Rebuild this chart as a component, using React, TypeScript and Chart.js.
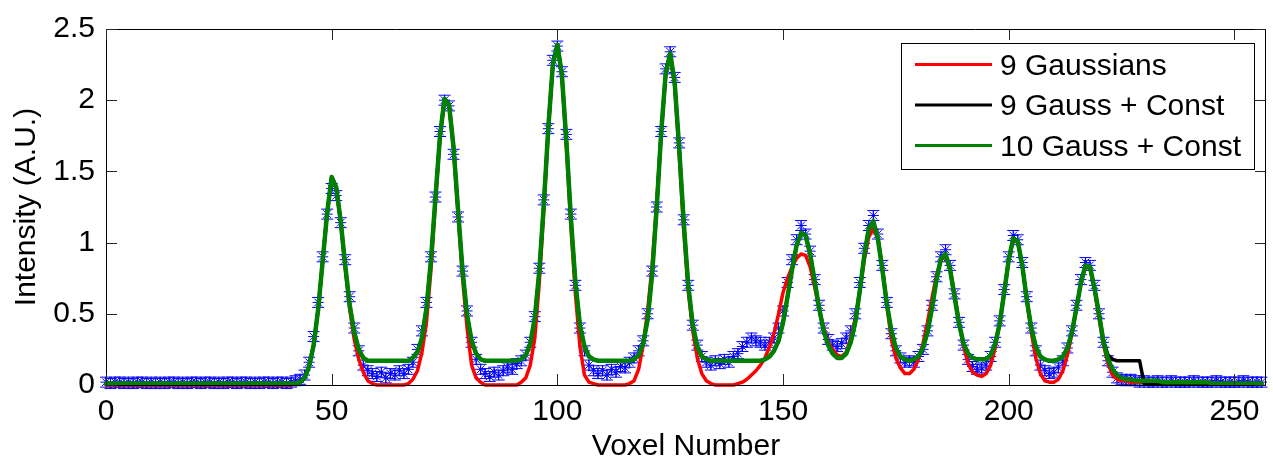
import React, { useEffect, useRef } from "react";
import { Chart, registerables } from "chart.js";

Chart.register(...registerables);

const WIDTH = 1273;
const HEIGHT = 465;
const FONT_FAMILY = "'Liberation Sans', Arial, Helvetica, sans-serif";
const FONT_SIZE = 30;

// x categories: voxel index 0..256
const VOXELS: number[] = Array.from({ length: 257 }, (_, i) => i);
const X_TICKS = [0, 50, 100, 150, 200, 250];
const Y_TICKS = [0, 0.5, 1, 1.5, 2, 2.5];
const X_LABEL = "Voxel Number";
const Y_LABEL = "Intensity (A.U.)";
const SERIES_LABELS = ["9 Gaussians", "9 Gauss + Const", "10 Gauss + Const"];

// measured intensity (blue stars with error bars)
const MEASURED = [
  0.02, 0.01, 0.02, 0.02, 0.01, 0.02, 0.01, 0.02, 0.02, 0.01,
  0.02, 0.01, 0.02, 0.01, 0.02, 0.02, 0.01, 0.02, 0.01, 0.02,
  0.02, 0.01, 0.02, 0.02, 0.01, 0.02, 0.01, 0.02, 0.02, 0.01,
  0.02, 0.02, 0.01, 0.02, 0.01, 0.02, 0.02, 0.01, 0.02, 0.02,
  0.01, 0.02, 0.03, 0.04, 0.07, 0.16, 0.34, 0.58, 0.9, 1.2,
  1.38, 1.33, 1.14, 0.88, 0.62, 0.4, 0.24, 0.14, 0.1, 0.08,
  0.06, 0.09, 0.05, 0.08, 0.07, 0.1, 0.08, 0.11, 0.16, 0.25,
  0.38, 0.58, 0.9, 1.32, 1.78, 2.0, 1.96, 1.62, 1.18, 0.8,
  0.52, 0.3, 0.18, 0.11, 0.08, 0.06, 0.09, 0.07, 0.1, 0.12,
  0.11, 0.15, 0.17, 0.21, 0.3, 0.48, 0.82, 1.3, 1.8, 2.28,
  2.38, 2.2, 1.76, 1.2, 0.7, 0.4, 0.24, 0.14, 0.1, 0.08,
  0.1, 0.07, 0.11, 0.09, 0.13, 0.12, 0.16, 0.19, 0.24, 0.31,
  0.5, 0.8, 1.25, 1.78, 2.22, 2.34, 2.16, 1.7, 1.16, 0.7,
  0.42, 0.28, 0.2, 0.16, 0.14, 0.17, 0.15, 0.18, 0.16, 0.2,
  0.22, 0.27, 0.3, 0.33, 0.31, 0.3, 0.28, 0.3, 0.33, 0.4,
  0.52, 0.72, 0.88, 1.02, 1.12, 1.06, 0.94, 0.74, 0.56, 0.4,
  0.32, 0.28, 0.27, 0.29, 0.33, 0.38, 0.5, 0.72, 0.96, 1.12,
  1.19, 1.06, 0.84, 0.58, 0.36, 0.24, 0.19, 0.16, 0.17, 0.16,
  0.2, 0.25, 0.38, 0.56, 0.76, 0.9, 0.95, 0.84, 0.64, 0.44,
  0.28, 0.18, 0.13, 0.11, 0.12, 0.14, 0.2, 0.3, 0.45, 0.67,
  0.9, 1.05, 1.02, 0.86, 0.62, 0.4, 0.24, 0.14, 0.1, 0.08,
  0.09, 0.12, 0.17, 0.26, 0.38, 0.56, 0.74, 0.86, 0.84, 0.7,
  0.5, 0.3, 0.17, 0.09, 0.05, 0.04, 0.03, 0.04, 0.03, 0.02,
  0.03, 0.02, 0.02, 0.03, 0.02, 0.02, 0.03, 0.02, 0.02, 0.02,
  0.02, 0.03, 0.02, 0.02, 0.02, 0.02, 0.03, 0.02, 0.02, 0.02,
  0.02, 0.02, 0.03, 0.02, 0.02, 0.02, 0.02,
];
const MEASURED_ERROR = 0.035;

// fit: 9 Gaussians
const FIT_9_GAUSS = [
  0, 0, 0, 0, 0, 0, 0, 0, 0, 0,
  0, 0, 0, 0, 0, 0, 0, 0, 0, 0,
  0, 0, 0, 0, 0, 0, 0, 0, 0, 0,
  0, 0, 0, 0, 0, 0, 0, 0, 0, 0,
  0, 0, 0.01, 0.02, 0.05, 0.13, 0.28, 0.53, 0.87, 1.21,
  1.46, 1.39, 1.14, 0.82, 0.53, 0.32, 0.18, 0.09, 0.03, 0.01,
  0, 0, 0, 0, 0, 0, 0, 0.01, 0.04, 0.1,
  0.23, 0.44, 0.81, 1.29, 1.74, 2.01, 1.97, 1.66, 1.2, 0.75,
  0.4, 0.14, 0.05, 0.02, 0, 0, 0, 0, 0, 0,
  0, 0, 0.02, 0.05, 0.14, 0.33, 0.72, 1.23, 1.8, 2.25,
  2.39, 2.17, 1.68, 1.11, 0.64, 0.27, 0.07, 0.02, 0.01, 0,
  0, 0, 0, 0, 0, 0, 0.01, 0.03, 0.11, 0.28,
  0.52, 0.84, 1.28, 1.77, 2.18, 2.32, 2.1, 1.62, 1.08, 0.66,
  0.38, 0.19, 0.08, 0.03, 0.01, 0, 0, 0, 0, 0,
  0.01, 0.02, 0.04, 0.07, 0.1, 0.14, 0.19, 0.27, 0.36, 0.5,
  0.65, 0.75, 0.83, 0.89, 0.92, 0.91, 0.83, 0.69, 0.53, 0.4,
  0.3, 0.25, 0.21, 0.2, 0.23, 0.33, 0.47, 0.66, 0.88, 1.04,
  1.1, 1.03, 0.83, 0.56, 0.32, 0.19, 0.12, 0.08, 0.08, 0.11,
  0.18, 0.29, 0.44, 0.61, 0.77, 0.88, 0.9, 0.82, 0.64, 0.44,
  0.27, 0.15, 0.09, 0.07, 0.06, 0.08, 0.14, 0.26, 0.44, 0.66,
  0.88, 1.02, 1.0, 0.84, 0.6, 0.37, 0.19, 0.08, 0.03, 0.02,
  0.02, 0.04, 0.1, 0.21, 0.36, 0.54, 0.72, 0.83, 0.82, 0.67,
  0.47, 0.28, 0.15, 0.07, 0.04, 0.03, 0.03, 0.02, 0.02, 0.02,
  0.02, 0.02, 0.02, 0.02, 0.02, 0.02, 0.02, 0.02, 0.02, 0.02,
  0.01, 0.01, 0.01, 0.01, 0.01, 0.01, 0.01, 0.01, 0.01, 0.01,
  0.01, 0.01, 0.01, 0.01, 0.01, 0.01, 0.01,
];

// fit: 9 Gaussians + constant
const FIT_9_GAUSS_CONST = [
  0.01, 0.01, 0.01, 0.01, 0.01, 0.01, 0.01, 0.01, 0.01, 0.01,
  0.01, 0.01, 0.01, 0.01, 0.01, 0.01, 0.01, 0.01, 0.01, 0.01,
  0.01, 0.01, 0.01, 0.01, 0.01, 0.01, 0.01, 0.01, 0.01, 0.01,
  0.01, 0.01, 0.01, 0.01, 0.01, 0.01, 0.01, 0.01, 0.01, 0.01,
  0.01, 0.01, 0.01, 0.02, 0.05, 0.13, 0.28, 0.53, 0.87, 1.21,
  1.46, 1.39, 1.15, 0.84, 0.56, 0.37, 0.25, 0.19, 0.17, 0.17,
  0.17, 0.17, 0.17, 0.17, 0.17, 0.17, 0.17, 0.17, 0.19, 0.23,
  0.33, 0.54, 0.88, 1.32, 1.75, 2.01, 1.97, 1.67, 1.23, 0.8,
  0.49, 0.31, 0.22, 0.18, 0.17, 0.17, 0.17, 0.17, 0.17, 0.17,
  0.17, 0.17, 0.18, 0.21, 0.29, 0.47, 0.8, 1.27, 1.81, 2.25,
  2.39, 2.18, 1.71, 1.17, 0.72, 0.42, 0.27, 0.2, 0.18, 0.17,
  0.17, 0.17, 0.17, 0.17, 0.17, 0.17, 0.17, 0.18, 0.21, 0.29,
  0.46, 0.78, 1.24, 1.77, 2.19, 2.33, 2.12, 1.66, 1.14, 0.7,
  0.42, 0.27, 0.2, 0.18, 0.17, 0.17, 0.17, 0.17, 0.17, 0.17,
  0.17, 0.17, 0.17, 0.17, 0.17, 0.17, 0.18, 0.2, 0.24, 0.31,
  0.44, 0.62, 0.81, 0.98, 1.07, 1.05, 0.92, 0.73, 0.54, 0.38,
  0.28, 0.22, 0.19, 0.19, 0.22, 0.3, 0.44, 0.66, 0.91, 1.1,
  1.15, 1.03, 0.81, 0.57, 0.38, 0.26, 0.2, 0.18, 0.17, 0.18,
  0.2, 0.26, 0.37, 0.54, 0.74, 0.89, 0.92, 0.81, 0.62, 0.43,
  0.29, 0.22, 0.19, 0.18, 0.18, 0.18, 0.21, 0.29, 0.43, 0.65,
  0.88, 1.03, 1.01, 0.84, 0.6, 0.4, 0.27, 0.2, 0.18, 0.17,
  0.17, 0.18, 0.2, 0.26, 0.37, 0.54, 0.72, 0.84, 0.83, 0.68,
  0.5, 0.31, 0.21, 0.18, 0.17, 0.17, 0.17, 0.17, 0.17, 0.17,
  0.01, 0.01, 0.01, 0.01, 0.01, 0.01, 0.01, 0.01, 0.01, 0.01,
  0.01, 0.01, 0.01, 0.01, 0.01, 0.01, 0.01, 0.01, 0.01, 0.01,
  0.01, 0.01, 0.01, 0.01, 0.01, 0.01, 0.01,
];

// fit: 10 Gaussians + constant
const FIT_10_GAUSS_CONST = [
  0.01, 0.01, 0.01, 0.01, 0.01, 0.01, 0.01, 0.01, 0.01, 0.01,
  0.01, 0.01, 0.01, 0.01, 0.01, 0.01, 0.01, 0.01, 0.01, 0.01,
  0.01, 0.01, 0.01, 0.01, 0.01, 0.01, 0.01, 0.01, 0.01, 0.01,
  0.01, 0.01, 0.01, 0.01, 0.01, 0.01, 0.01, 0.01, 0.01, 0.01,
  0.01, 0.01, 0.01, 0.02, 0.05, 0.13, 0.28, 0.53, 0.87, 1.21,
  1.46, 1.39, 1.15, 0.84, 0.56, 0.37, 0.25, 0.19, 0.17, 0.17,
  0.17, 0.17, 0.17, 0.17, 0.17, 0.17, 0.17, 0.17, 0.19, 0.23,
  0.33, 0.54, 0.88, 1.32, 1.75, 2.01, 1.97, 1.67, 1.23, 0.8,
  0.49, 0.31, 0.22, 0.18, 0.17, 0.17, 0.17, 0.17, 0.17, 0.17,
  0.17, 0.17, 0.18, 0.21, 0.29, 0.47, 0.8, 1.27, 1.81, 2.25,
  2.39, 2.18, 1.71, 1.17, 0.72, 0.42, 0.27, 0.2, 0.18, 0.17,
  0.17, 0.17, 0.17, 0.17, 0.17, 0.17, 0.17, 0.18, 0.21, 0.29,
  0.46, 0.78, 1.24, 1.77, 2.19, 2.33, 2.12, 1.66, 1.14, 0.7,
  0.42, 0.27, 0.2, 0.18, 0.17, 0.17, 0.17, 0.17, 0.17, 0.17,
  0.17, 0.17, 0.17, 0.17, 0.17, 0.17, 0.18, 0.2, 0.24, 0.31,
  0.44, 0.62, 0.81, 0.98, 1.07, 1.05, 0.92, 0.73, 0.54, 0.38,
  0.28, 0.22, 0.19, 0.19, 0.22, 0.3, 0.44, 0.66, 0.91, 1.1,
  1.15, 1.03, 0.81, 0.57, 0.38, 0.26, 0.2, 0.18, 0.17, 0.18,
  0.2, 0.26, 0.37, 0.54, 0.74, 0.89, 0.92, 0.81, 0.62, 0.43,
  0.29, 0.22, 0.19, 0.18, 0.18, 0.18, 0.21, 0.29, 0.43, 0.65,
  0.88, 1.03, 1.01, 0.84, 0.6, 0.4, 0.27, 0.2, 0.18, 0.17,
  0.17, 0.18, 0.2, 0.26, 0.37, 0.54, 0.72, 0.84, 0.83, 0.68,
  0.5, 0.3, 0.18, 0.11, 0.07, 0.05, 0.04, 0.04, 0.03, 0.03,
  0.03, 0.03, 0.03, 0.03, 0.02, 0.02, 0.02, 0.02, 0.02, 0.02,
  0.02, 0.02, 0.02, 0.02, 0.02, 0.01, 0.01, 0.01, 0.01, 0.01,
  0.01, 0.01, 0.01, 0.01, 0.01, 0.01, 0.01,
];

const toPoints = (values: number[]) => values.map((y, i) => ({ x: VOXELS[i], y }));

// Error bars for the measured series, drawn beneath all the lines
const errorBarPlugin = {
  id: "errorBars",
  beforeDatasetsDraw(chart: any) {
    const { ctx } = chart;
    const xs = chart.scales.x;
    const ys = chart.scales.y;
    chart.data.datasets.forEach((ds: any) => {
      if (!ds.errorBar) return;
      ctx.save();
      ctx.strokeStyle = ds.borderColor;
      ctx.lineWidth = 1;
      ds.data.forEach((p: any) => {
        const x = xs.getPixelForValue(p.x);
        const yt = ys.getPixelForValue(p.y + ds.errorBar);
        const yb = ys.getPixelForValue(p.y - ds.errorBar);
        ctx.beginPath();
        ctx.moveTo(x, yt);
        ctx.lineTo(x, yb);
        ctx.moveTo(x - 6, yt);
        ctx.lineTo(x + 6, yt);
        ctx.moveTo(x - 6, yb);
        ctx.lineTo(x + 6, yb);
        ctx.stroke();
      });
      ctx.restore();
    });
  },
};

// Box around the axes with inward tick marks on all four sides
const framePlugin = {
  id: "frame",
  afterDatasetsDraw(chart: any) {
    const { ctx, chartArea } = chart;
    const { left, right, top, bottom } = chartArea;
    const xs = chart.scales.x;
    const ys = chart.scales.y;
    const tick = 11;
    ctx.save();
    ctx.strokeStyle = "#000";
    ctx.lineWidth = 1;
    ctx.beginPath();
    ctx.rect(left + 0.5, top + 0.5, right - left - 1, bottom - top);
    ctx.stroke();
    ctx.strokeStyle = "#262626";
    ctx.beginPath();
    xs.ticks.forEach((t: any) => {
      const px = Math.round(xs.getPixelForValue(t.value)) + 0.5;
      ctx.moveTo(px, bottom);
      ctx.lineTo(px, bottom - tick);
      ctx.moveTo(px, top);
      ctx.lineTo(px, top + tick);
    });
    ys.ticks.forEach((t: any) => {
      const py = Math.round(ys.getPixelForValue(t.value)) + 0.5;
      ctx.moveTo(left, py);
      ctx.lineTo(left + tick, py);
      ctx.moveTo(right, py);
      ctx.lineTo(right - tick, py);
    });
    ctx.stroke();
    ctx.restore();
  },
};

// Boxed legend in the upper-right corner of the plot area
const legendBoxPlugin = {
  id: "legendBox",
  afterDraw(chart: any) {
    const { ctx, chartArea } = chart;
    const items = chart.data.datasets.filter((d: any) => d.inLegend);
    ctx.save();
    ctx.font = `${FONT_SIZE}px ${FONT_FAMILY}`;
    const maxW = Math.max(...items.map((d: any) => ctx.measureText(d.label).width));
    const boxW = Math.max(353, Math.round(99 + maxW + 12));
    const boxH = 126;
    const boxRight = Math.round(chartArea.right - 12);
    const boxTop = Math.round(chartArea.top + 14);
    const boxLeft = boxRight - boxW;
    ctx.fillStyle = "#fff";
    ctx.fillRect(boxLeft, boxTop, boxW, boxH);
    ctx.strokeStyle = "#000";
    ctx.lineWidth = 1;
    ctx.strokeRect(boxLeft + 0.5, boxTop + 0.5, boxW, boxH);
    items.forEach((d: any, i: number) => {
      const y = boxTop + 21.5 + i * 40.5;
      ctx.strokeStyle = d.borderColor;
      ctx.lineWidth = 3;
      ctx.beginPath();
      ctx.moveTo(boxLeft + 14, y);
      ctx.lineTo(boxLeft + 91, y);
      ctx.stroke();
      ctx.fillStyle = "#000";
      ctx.textAlign = "left";
      ctx.textBaseline = "middle";
      ctx.fillText(d.label, boxLeft + 99, y + 2);
    });
    ctx.restore();
  },
};

export default function App() {
  const canvasRef = useRef<HTMLCanvasElement | null>(null);

  useEffect(() => {
    const canvas = canvasRef.current;
    if (!canvas) return;
    Chart.defaults.font.family = FONT_FAMILY;
    Chart.defaults.font.size = FONT_SIZE;
    Chart.defaults.color = "#000";

    const chart = new Chart(canvas, {
      type: "line",
      data: {
        datasets: [
          {
            label: SERIES_LABELS[0],
            data: toPoints(FIT_9_GAUSS),
            borderColor: "#ff0000",
            borderWidth: 3.5,
            pointRadius: 0,
            tension: 0,
            clip: false,
            order: 2,
            inLegend: true,
          } as any,
          {
            label: SERIES_LABELS[1],
            data: toPoints(FIT_9_GAUSS_CONST),
            borderColor: "#000000",
            borderWidth: 3.5,
            pointRadius: 0,
            tension: 0,
            clip: false,
            order: 1,
            inLegend: true,
          } as any,
          {
            label: SERIES_LABELS[2],
            data: toPoints(FIT_10_GAUSS_CONST),
            borderColor: "#008000",
            borderWidth: 4.5,
            pointRadius: 0,
            tension: 0,
            clip: false,
            order: 0,
            inLegend: true,
          } as any,
          {
            label: "Measured",
            data: toPoints(MEASURED),
            showLine: false,
            borderColor: "#0000ff",
            backgroundColor: "#0000ff",
            pointStyle: "star",
            pointRadius: 5.5,
            pointBorderWidth: 1,
            pointBorderColor: "#0000ff",
            clip: false,
            order: 3,
            errorBar: MEASURED_ERROR,
            inLegend: false,
          } as any,
        ],
      },
      options: {
        responsive: false,
        animation: false,
        events: [],
        layout: { padding: { top: 18, right: 7, left: 0, bottom: 0 } },
        plugins: {
          legend: { display: false },
          tooltip: { enabled: false },
        },
        elements: { line: { borderJoinStyle: "round", borderCapStyle: "round" } },
        scales: {
          x: {
            type: "linear",
            min: 0,
            max: 257,
            afterFit: (s: any) => {
              s.height = 80;
            },
            afterBuildTicks: (s: any) => {
              s.ticks = X_TICKS.map((v) => ({ value: v }));
            },
            grid: { display: false, drawTicks: false },
            border: { display: false },
            ticks: {
              padding: 9,
              color: "#000",
              font: { size: FONT_SIZE },
              maxRotation: 0,
              autoSkip: false,
              callback: (v: any) => String(v),
            },
            title: {
              display: true,
              text: X_LABEL,
              color: "#000",
              font: { size: FONT_SIZE },
              padding: { top: 0, bottom: 0 },
            },
          },
          y: {
            type: "linear",
            min: 0,
            max: 2.5,
            afterFit: (s: any) => {
              s.width = 106;
            },
            afterBuildTicks: (s: any) => {
              s.ticks = Y_TICKS.map((v) => ({ value: v }));
            },
            grid: { display: false, drawTicks: false },
            border: { display: false },
            ticks: {
              padding: 11,
              color: "#000",
              font: { size: FONT_SIZE },
              autoSkip: false,
              callback: (v: any) => String(v),
            },
            title: {
              display: true,
              text: Y_LABEL,
              color: "#000",
              font: { size: FONT_SIZE },
              padding: { top: 9, bottom: 0 },
            },
          },
        },
      } as any,
      plugins: [errorBarPlugin, framePlugin, legendBoxPlugin],
    });

    return () => chart.destroy();
  }, []);

  return (
    <div style={{ position: "absolute", left: 0, top: 0, width: WIDTH, height: HEIGHT, background: "#fff" }}>
      <canvas ref={canvasRef} width={WIDTH} height={HEIGHT} style={{ width: WIDTH, height: HEIGHT }} />
    </div>
  );
}
